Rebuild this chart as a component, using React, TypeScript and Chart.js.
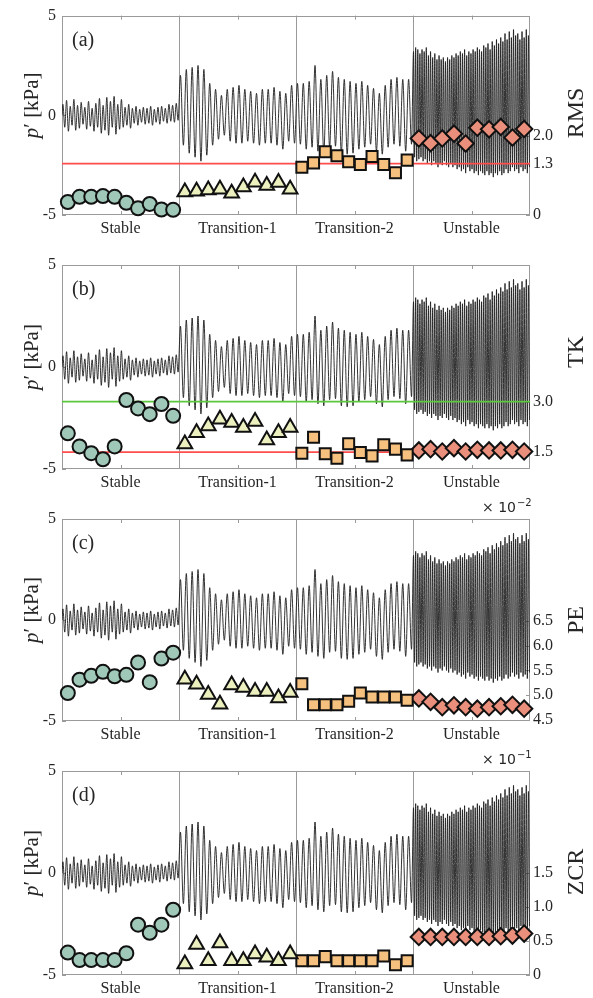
import React, { useEffect, useRef } from "react";
import { Chart, registerables } from "chart.js";

Chart.register(...registerables);

// ---------- categories / axes ----------
const regionLabels = ["Stable", "Transition-1", "Transition-2", "Unstable"];
const regionCenters = [5, 15, 25, 35];
const regionBounds = [10, 20, 30];
const leftTicks = [-5, 0, 5];

// ---------- pressure signal p' [kPa]: per-cycle peaks / troughs ----------
const stablePeaks = [0.55, 0.75, 0.45, 0.8, 0.5, 0.65, 0.4, 0.7, 0.35, 0.6, 0.85, 0.5, 0.9, 0.7, 0.95, 0.55, 0.8, 0.4, 0.55, 0.35, 0.45, 0.3, 0.4, 0.35, 0.45, 0.3, 0.4, 0.45, 0.35, 0.55, 0.5, 0.6];
const stableTroughs = [-0.6, -0.8, -0.5, -0.75, -0.65, -0.45, -0.7, -0.55, -0.8, -0.6, -0.9, -0.75, -1.0, -0.6, -0.95, -0.7, -0.6, -0.5, -0.65, -0.4, -0.5, -0.35, -0.45, -0.4, -0.5, -0.35, -0.45, -0.3, -0.4, -0.3, -0.35, -0.25];
const trans1Peaks = [2.0, 2.3, 2.4, 2.5, 2.3, 1.6, 1.3, 1.0, 1.3, 1.4, 1.5, 1.3, 1.2, 1.1, 1.3, 1.3, 1.4, 1.2, 1.1, 1.5];
const trans1Troughs = [-1.5, -1.9, -2.1, -2.3, -2.0, -1.5, -1.2, -1.0, -1.3, -1.4, -1.4, -1.3, -1.4, -1.5, -1.4, -1.4, -1.5, -1.7, -1.3, -1.4];
const trans2Peaks = [1.6, 1.6, 1.7, 2.5, 1.8, 2.0, 2.2, 1.9, 1.8, 1.7, 1.6, 1.7, 1.5, 1.35, 1.1, 1.5, 1.8, 1.9, 1.8, 1.8];
const trans2Troughs = [-1.45, -1.7, -1.6, -1.8, -1.9, -1.6, -1.55, -1.9, -1.95, -1.9, -1.7, -1.6, -1.45, -1.8, -1.95, -1.6, -1.45, -1.55, -1.8, -1.45];
const unstablePeaks = [3.2, 3.4, 3.3, 3.1, 3.3, 3.2, 3.4, 3.0, 3.2, 2.9, 3.1, 2.8, 3.0, 2.8, 2.9, 2.7, 2.9, 2.8, 3.0, 2.9, 3.1, 3.0, 3.2, 3.1, 3.3, 3.0, 3.2, 3.1, 3.3, 3.2, 3.4, 3.3, 3.2, 3.5, 3.4, 3.6, 3.3, 3.7, 3.5, 3.8, 3.6, 3.9, 3.7, 4.1, 3.8, 4.2, 3.9, 4.3, 4.0, 4.1, 3.8, 4.2, 3.9, 4.3, 4.0];
const unstableTroughs = [-2.1, -2.3, -2.2, -2.1, -2.3, -2.2, -2.4, -2.3, -2.5, -2.3, -2.4, -2.6, -2.4, -2.5, -2.3, -2.5, -2.6, -2.4, -2.6, -2.5, -2.7, -2.6, -2.8, -2.7, -2.9, -2.6, -2.8, -2.7, -2.9, -2.8, -3.0, -2.8, -2.9, -3.0, -2.8, -3.0, -2.9, -3.1, -2.9, -3.0, -2.8, -3.0, -2.9, -2.7, -2.9, -2.8, -2.6, -2.8, -2.7, -2.9, -2.6, -2.8, -2.7, -2.9, -2.6];

// ---------- indicator values (10 per regime) ----------
const rmsStable = [0.33, 0.46, 0.46, 0.48, 0.46, 0.31, 0.17, 0.28, 0.14, 0.13];
const rmsTrans1 = [0.58, 0.6, 0.63, 0.65, 0.55, 0.71, 0.83, 0.75, 0.82, 0.65];
const rmsTrans2 = [1.21, 1.32, 1.6, 1.5, 1.35, 1.28, 1.48, 1.28, 1.07, 1.39];
const rmsUnstable = [1.94, 1.82, 1.94, 2.06, 1.81, 2.21, 2.17, 2.23, 1.96, 2.18];

const tkStable = [2.06, 1.67, 1.47, 1.29, 1.67, 3.05, 2.8, 2.63, 2.93, 2.58];
const tkTrans1 = [1.74, 2.08, 2.28, 2.48, 2.38, 2.23, 2.41, 1.86, 2.08, 2.23];
const tkTrans2 = [1.47, 1.94, 1.45, 1.32, 1.75, 1.49, 1.39, 1.72, 1.59, 1.42];
const tkUnstable = [1.55, 1.59, 1.52, 1.62, 1.52, 1.57, 1.55, 1.55, 1.57, 1.52];

const peStable = [5.04, 5.31, 5.39, 5.47, 5.38, 5.41, 5.66, 5.26, 5.74, 5.86];
const peTrans1 = [5.32, 5.22, 5.01, 4.81, 5.2, 5.15, 5.07, 5.07, 4.94, 5.05];
const peTrans2 = [5.23, 4.8, 4.8, 4.8, 4.87, 5.04, 4.96, 4.96, 4.96, 4.89];
const peUnstable = [4.93, 4.86, 4.75, 4.79, 4.75, 4.72, 4.75, 4.77, 4.8, 4.72];

const zcrStable = [0.33, 0.22, 0.22, 0.22, 0.22, 0.32, 0.74, 0.62, 0.74, 0.96];
const zcrTrans1 = [0.16, 0.45, 0.21, 0.47, 0.21, 0.21, 0.31, 0.26, 0.21, 0.31];
const zcrTrans2 = [0.21, 0.21, 0.27, 0.21, 0.21, 0.21, 0.21, 0.28, 0.15, 0.21];
const zcrUnstable = [0.56, 0.56, 0.56, 0.56, 0.56, 0.56, 0.56, 0.57, 0.58, 0.61];

// ---------- right-axis ticks / thresholds ----------
const rmsTicks = [0, 1.3, 2.0];
const tkTicks = [1.5, 3.0];
const peTicks = [4.5, 5.0, 5.5, 6.0, 6.5];
const zcrTicks = [0, 0.5, 1.0, 1.5];
const rmsThresholds = [1.3];
const tkThresholds = [1.5, 3.0];
const thresholdColors = ["#ff4d4d", "#5cc83c"];

const TEXT = "#262626";
const SERIF = '"Liberation Serif", "Times New Roman", serif';
const W = 593;

const markerStyles = [
  { pointStyle: "circle", radius: 7, fill: "#9fc8b8" },
  { pointStyle: "triangle", radius: 8.5, fill: "#ecefbe" },
  { pointStyle: "rect", radius: 7.8, fill: "#f6c07e" },
  { pointStyle: "rectRot", radius: 8.2, fill: "#e98f7b" },
];

function buildSignal() {
  const regions = [
    [stablePeaks, stableTroughs],
    [trans1Peaks, trans1Troughs],
    [trans2Peaks, trans2Troughs],
    [unstablePeaks, unstableTroughs],
  ];
  const pts: { x: number; y: number }[] = [{ x: 0, y: 0 }];
  regions.forEach(([P, Q], r) => {
    const n = P.length;
    for (let k = 0; k < n; k++) {
      pts.push({ x: r * 10 + ((k + 0.25) * 10) / n, y: P[k] });
      pts.push({ x: r * 10 + ((k + 0.75) * 10) / n, y: Q[k] });
    }
  });
  return pts;
}

const panels = [
  { tag: "(a)", metric: "RMS", values: [rmsStable, rmsTrans1, rmsTrans2, rmsUnstable], ticks: rmsTicks, min: 0, max: 5.05, thresholds: rmsThresholds, exp: null, canvasTop: 0, canvasH: 250, padTop: 13, plotBottom: 215, titleY: 113 },
  { tag: "(b)", metric: "TK", values: [tkStable, tkTrans1, tkTrans2, tkUnstable], ticks: tkTicks, min: 1.0, max: 7.06, thresholds: tkThresholds, exp: null, canvasTop: 245, canvasH: 259, padTop: 20, plotBottom: 469, titleY: 352 },
  { tag: "(c)", metric: "PE", values: [peStable, peTrans1, peTrans2, peUnstable], ticks: peTicks, min: 4.47, max: 8.58, thresholds: [], exp: "\u22122", canvasTop: 497, canvasH: 259, padTop: 22, plotBottom: 721, titleY: 620 },
  { tag: "(d)", metric: "ZCR", values: [zcrStable, zcrTrans1, zcrTrans2, zcrUnstable], ticks: zcrTicks, min: 0, max: 3.0, thresholds: [], exp: "\u22121", canvasTop: 749, canvasH: 249, padTop: 22, plotBottom: 975, titleY: 872 },
];

function fmt(v: number) {
  return v === 0 ? "0" : v.toFixed(1);
}

function Panel({ cfg }: { cfg: any }) {
  const ref = useRef<HTMLCanvasElement>(null);
  useEffect(() => {
    const canvas = ref.current!;
    const xAxisH = cfg.canvasTop + cfg.canvasH - cfg.plotBottom;

    const markerSets = cfg.values.map((vals: number[], r: number) => {
      const st = markerStyles[r];
      return {
        data: vals.map((v, i) => ({ x: r * 10 + i + 0.5, y: v })),
        yAxisID: "y2",
        showLine: false,
        pointStyle: st.pointStyle,
        pointRadius: st.radius,
        pointBackgroundColor: st.fill,
        pointBorderColor: "#111",
        pointBorderWidth: 2,
        clip: false,
      };
    });
    const thresholdSets = cfg.thresholds.map((v: number, i: number) => ({
      data: [
        { x: 0, y: v },
        { x: 40, y: v },
      ],
      yAxisID: "y2",
      borderColor: thresholdColors[i],
      borderWidth: 1.8,
      pointRadius: 0,
    }));
    const signalSet = {
      data: buildSignal(),
      yAxisID: "y",
      borderColor: "#1c1c1c",
      borderWidth: 0.9,
      pointRadius: 0,
      cubicInterpolationMode: "monotone",
    };

    const decor = {
      id: "decor",
      beforeDatasetsDraw(chart: any) {
        const { ctx, chartArea } = chart;
        const { left, right, top, bottom } = chartArea;
        const xs = chart.scales.x;
        const yl = chart.scales.y;
        const yr = chart.scales.y2;
        ctx.save();
        ctx.strokeStyle = "#9a9a9a";
        ctx.lineWidth = 1;
        ctx.strokeRect(Math.round(left) + 0.5, Math.round(top) + 0.5, Math.round(right - left) - 1, Math.round(bottom - top) - 1);
        ctx.beginPath();
        regionBounds.forEach((b) => {
          const px = Math.round(xs.getPixelForValue(b)) + 0.5;
          ctx.moveTo(px, top);
          ctx.lineTo(px, bottom);
        });
        regionCenters.forEach((c) => {
          const px = Math.round(xs.getPixelForValue(c)) + 0.5;
          ctx.moveTo(px, top);
          ctx.lineTo(px, top + 4);
          ctx.moveTo(px, bottom);
          ctx.lineTo(px, bottom - 4);
        });
        leftTicks.forEach((v) => {
          const py = Math.round(yl.getPixelForValue(v)) + 0.5;
          ctx.moveTo(left, py);
          ctx.lineTo(left + 4, py);
        });
        cfg.ticks.forEach((v: number) => {
          const py = Math.round(yr.getPixelForValue(v)) + 0.5;
          ctx.moveTo(right, py);
          ctx.lineTo(right - 4, py);
        });
        ctx.stroke();
        ctx.restore();
      },
      afterDraw(chart: any) {
        const { ctx, chartArea } = chart;
        const { left, top, bottom } = chartArea;
        ctx.save();
        ctx.fillStyle = TEXT;
        // panel tag
        ctx.font = `20px ${SERIF}`;
        ctx.textAlign = "left";
        ctx.textBaseline = "middle";
        ctx.fillText(cfg.tag, left + 10, top + 25);
        // left title p' [kPa]
        const cy = (top + bottom) / 2 - 10;
        ctx.save();
        ctx.translate(38, cy);
        ctx.rotate(-Math.PI / 2);
        ctx.textBaseline = "alphabetic";
        ctx.textAlign = "left";
        const f1 = `italic 21px ${SERIF}`;
        const f2 = `21px ${SERIF}`;
        ctx.font = f1;
        const w1 = ctx.measureText("p").width;
        ctx.font = f2;
        const w2 = ctx.measureText("\u2032").width;
        const w3 = ctx.measureText(" [kPa]").width;
        let x0 = -(w1 + w2 + w3) / 2;
        ctx.font = f1;
        ctx.fillText("p", x0, 0);
        x0 += w1;
        ctx.font = f2;
        ctx.fillText("\u2032", x0, 0);
        x0 += w2;
        ctx.fillText(" [kPa]", x0, 0);
        ctx.restore();
        // right title
        ctx.save();
        ctx.translate(583, cfg.titleY - cfg.canvasTop);
        ctx.rotate(-Math.PI / 2);
        ctx.font = `24px ${SERIF}`;
        ctx.textAlign = "center";
        ctx.textBaseline = "alphabetic";
        ctx.fillText(cfg.metric, 0, 0);
        ctx.restore();
        // exponent
        if (cfg.exp) {
          ctx.font = '14px "DejaVu Sans", sans-serif';
          ctx.textAlign = "left";
          ctx.textBaseline = "alphabetic";
          const t = "\u00d7 10";
          ctx.fillText(t, 482, top - 7);
          const tw = ctx.measureText(t).width;
          ctx.font = '10px "DejaVu Sans", sans-serif';
          ctx.fillText(cfg.exp, 482 + tw + 1, top - 13);
        }
        ctx.restore();
      },
    };

    const tickFont = { family: SERIF, size: 16 };
    const noGrid = { display: false, drawTicks: false };
    const chart = new Chart(canvas, {
      type: "line",
      data: { datasets: [...markerSets, ...thresholdSets, signalSet] as any },
      options: {
        animation: false,
        responsive: false,
        devicePixelRatio: 1,
        events: [],
        layout: { padding: { top: cfg.padTop, left: 0, right: 0, bottom: 0 } },
        plugins: { legend: { display: false }, tooltip: { enabled: false } },
        scales: {
          x: {
            type: "linear",
            position: "bottom",
            min: 0,
            max: 40,
            grid: noGrid,
            border: { display: false },
            afterBuildTicks: (a: any) => {
              a.ticks = regionCenters.map((v) => ({ value: v }));
            },
            afterFit: (s: any) => {
              s.height = xAxisH;
            },
            ticks: {
              autoSkip: false,
              maxRotation: 0,
              minRotation: 0,
              padding: 4,
              color: TEXT,
              font: tickFont,
              callback: (v: any) => regionLabels[regionCenters.indexOf(Number(v))] ?? "",
            },
          },
          y: {
            type: "linear",
            position: "left",
            min: -5,
            max: 5,
            grid: noGrid,
            border: { display: false },
            afterBuildTicks: (a: any) => {
              a.ticks = leftTicks.map((v) => ({ value: v }));
            },
            afterFit: (s: any) => {
              s.width = 62;
            },
            ticks: { padding: 6, color: TEXT, font: tickFont, callback: (v: any) => String(v) },
          },
          y2: {
            type: "linear",
            position: "right",
            min: cfg.min,
            max: cfg.max,
            grid: noGrid,
            border: { display: false },
            afterBuildTicks: (a: any) => {
              a.ticks = cfg.ticks.map((v: number) => ({ value: v }));
            },
            afterFit: (s: any) => {
              s.width = W - 530;
            },
            ticks: { padding: 3, color: TEXT, font: tickFont, callback: (v: any) => fmt(Number(v)) },
          },
        },
      } as any,
      plugins: [decor],
    });
    return () => chart.destroy();
  }, []);
  return (
    <canvas
      ref={ref}
      width={W}
      height={cfg.canvasH}
      style={{ position: "absolute", left: 0, top: cfg.canvasTop, width: W, height: cfg.canvasH }}
    />
  );
}

export default function App() {
  return (
    <div style={{ position: "absolute", left: 0, top: 0, width: W, height: 998, background: "#fff" }}>
      {panels.map((p, i) => (
        <Panel key={i} cfg={p} />
      ))}
    </div>
  );
}
